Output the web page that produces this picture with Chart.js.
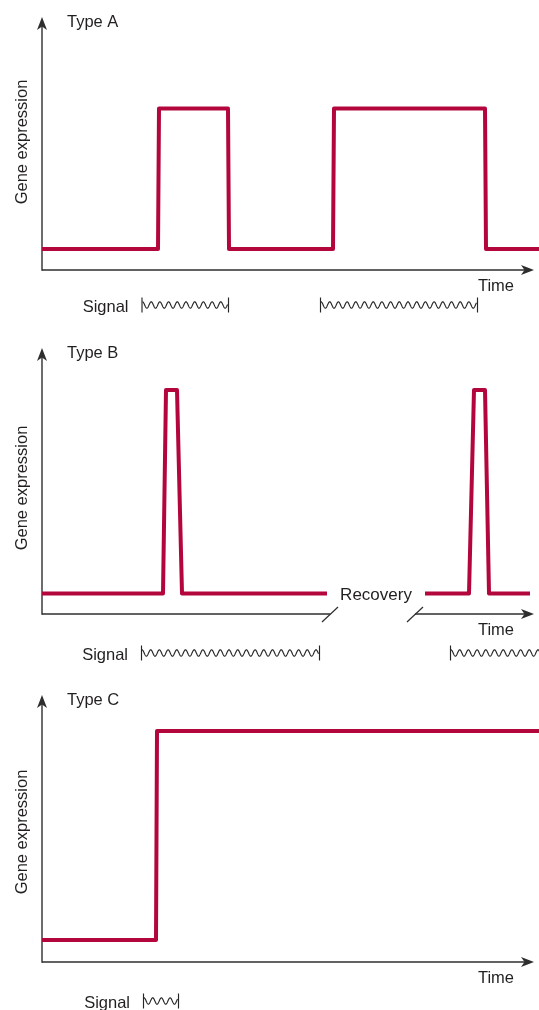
<!DOCTYPE html>
<html><head><meta charset="utf-8">
<script src="https://cdn.jsdelivr.net/npm/chart.js@4.4.1/dist/chart.umd.min.js"></script>
<style>
html,body{margin:0;padding:0;background:#fff;}
#wrap{position:relative;width:539px;height:1010px;overflow:hidden;background:#fff;}
canvas{position:absolute;left:0;}
</style></head><body>
<div id="wrap">
<canvas id="cA" width="539" height="335" style="top:0px"></canvas>
<canvas id="cB" width="539" height="340" style="top:335px"></canvas>
<canvas id="cC" width="539" height="335" style="top:675px"></canvas>
</div>
<script>
// ---- Data (time in arbitrary units, gene expression in arbitrary units 0-10) ----
const typeA_time   = [0, 116, 117, 186, 187, 291, 292, 443, 444, 497];
const typeA_level  = [0.83, 0.83, 6.38, 6.38, 0.83, 0.83, 6.38, 6.38, 0.83, 0.83];
const typeA_signal = [[99.5, 186], [278, 435]];

const typeB_time   = [0, 121, 124, 135, 140, 285, 334, 383, 427, 432, 443, 447, 488];
const typeB_level  = [0.77, 0.77, 8.42, 8.42, 0.77, 0.77, null, 0.77, 0.77, 8.42, 8.42, 0.77, 0.77];
const typeB_signal = [[99, 277], [408, null]];
const typeB_break  = [288, 373];

const typeC_time   = [0, 114, 115, 497];
const typeC_level  = [0.82, 0.82, 8.65, 8.65];
const typeC_signal = [[101, 136]];

const panelTitles = ['Type A', 'Type B', 'Type C'];
const yTitle = 'Gene expression';
const xTitle = 'Time';
const signalLabel = 'Signal';
const recoveryLabel = 'Recovery';

// ---- Styles ----
const LINE = '#b3063c';
const AXIS = '#2e2e2e';
const TEXT = '#231f20';
const FONT = '16.5px "Liberation Sans", Arial, Helvetica, sans-serif';

const META = {
  cA: {title: panelTitles[0], signals: typeA_signal, waveY: 305, geneY: 142},
  cB: {title: panelTitles[1], signals: typeB_signal, waveY: 318, geneY: 153, brk: typeB_break, recovery: 334, recLevel: 0.77},
  cC: {title: panelTitles[2], signals: typeC_signal, waveY: 326, geneY: 157}
};

function seg(ctx, x1, y1, x2, y2) { ctx.beginPath(); ctx.moveTo(x1, y1); ctx.lineTo(x2, y2); ctx.stroke(); }
function arrowUp(ctx, x, tip) {
  ctx.beginPath(); ctx.moveTo(x, tip); ctx.lineTo(x + 5, tip + 13); ctx.lineTo(x, tip + 9.5); ctx.lineTo(x - 5, tip + 13); ctx.closePath(); ctx.fill();
}
function arrowRight(ctx, tip, y) {
  ctx.beginPath(); ctx.moveTo(tip, y); ctx.lineTo(tip - 13, y - 5); ctx.lineTo(tip - 9.5, y); ctx.lineTo(tip - 13, y + 5); ctx.closePath(); ctx.fill();
}
function wave(ctx, p0, p1, yc) {
  const amp = 3.2, period = 8.7;
  ctx.beginPath();
  let first = true;
  for (let px = p0 + 1; px <= p1 - 0.5; px += 0.25) {
    const yy = yc - amp * Math.cos((px - p0 - 1) / period * 2 * Math.PI);
    if (first) { ctx.moveTo(px, yy); first = false; } else ctx.lineTo(px, yy);
  }
  ctx.stroke();
}

const decor = {
  id: 'decor',
  beforeDatasetsDraw(chart) {
    const m = META[chart.canvas.id];
    const {ctx, chartArea: a, scales: {x}} = chart;
    ctx.save();
    ctx.strokeStyle = AXIS; ctx.fillStyle = AXIS; ctx.lineWidth = 1.4;
    const x0 = a.left, yb = a.bottom, yt = a.top, tip = a.right - 5;
    seg(ctx, x0, yb + 0.7, x0, yt + 9);
    arrowUp(ctx, x0, yt);
    if (m.brk) {
      const b1 = x.getPixelForValue(m.brk[0]), b2 = x.getPixelForValue(m.brk[1]);
      seg(ctx, x0, yb, b1, yb);
      seg(ctx, b2, yb, tip - 9, yb);
      ctx.lineWidth = 1.2;
      seg(ctx, b1 - 8, yb + 8, b1 + 8, yb - 7);
      seg(ctx, b2 - 8, yb + 8, b2 + 8, yb - 7);
    } else {
      seg(ctx, x0, yb, tip - 9, yb);
    }
    arrowRight(ctx, tip, yb);
    ctx.restore();
  },
  afterDraw(chart) {
    const m = META[chart.canvas.id];
    const {ctx, chartArea: a, scales: {x, y}} = chart;
    ctx.save();
    ctx.fillStyle = TEXT; ctx.font = FONT; ctx.textBaseline = 'alphabetic';
    ctx.textAlign = 'left';
    ctx.fillText(m.title, a.left + 25, a.top + 10);
    ctx.textAlign = 'right';
    ctx.fillText(xTitle, a.right - 25, a.bottom + 21);
    ctx.save();
    ctx.translate(27, m.geneY);
    ctx.rotate(-Math.PI / 2);
    ctx.textAlign = 'center';
    ctx.fillText(yTitle, 0, 0);
    ctx.restore();
    if (m.recovery !== undefined) {
      ctx.font = '17px "Liberation Sans", Arial, Helvetica, sans-serif';
      ctx.textAlign = 'center';
      ctx.fillText(recoveryLabel, x.getPixelForValue(m.recovery), y.getPixelForValue(m.recLevel) + 6.5);
      ctx.font = FONT;
    }
    ctx.strokeStyle = '#262626'; ctx.lineWidth = 1.15;
    m.signals.forEach((s, i) => {
      const p0 = x.getPixelForValue(s[0]);
      const p1 = s[1] === null ? a.right + 2 : x.getPixelForValue(s[1]);
      if (i === 0) {
        ctx.textAlign = 'right';
        ctx.fillText(signalLabel, p0 - 13, m.waveY + 6.5);
      }
      seg(ctx, p0 + 0.5, m.waveY - 7.5, p0 + 0.5, m.waveY + 7.5);
      if (s[1] !== null) seg(ctx, p1 + 0.5, m.waveY - 7.5, p1 + 0.5, m.waveY + 7.5);
      wave(ctx, p0, p1, m.waveY);
    });
    ctx.restore();
  }
};

function makeChart(id, times, levels, pad) {
  return new Chart(document.getElementById(id), {
    type: 'line',
    data: {datasets: [{
      data: times.map((t, i) => ({x: t, y: levels[i]})),
      borderColor: LINE, borderWidth: 4, pointRadius: 0, pointHoverRadius: 0,
      tension: 0, borderJoinStyle: 'round', borderCapStyle: 'butt',
      spanGaps: false, fill: false, clip: false
    }]},
    options: {
      responsive: false, animation: false, devicePixelRatio: 1, events: [],
      layout: {padding: pad},
      scales: {
        x: {type: 'linear', min: 0, max: 497, display: false},
        y: {type: 'linear', min: 0, max: 10, display: false}
      },
      plugins: {legend: {display: false}, tooltip: {enabled: false}, title: {display: false}}
    },
    plugins: [decor]
  });
}

makeChart('cA', typeA_time, typeA_level, {left: 42, right: 0, top: 17, bottom: 65});
makeChart('cB', typeB_time, typeB_level, {left: 42, right: 0, top: 13, bottom: 61});
makeChart('cC', typeC_time, typeC_level, {left: 42, right: 0, top: 20, bottom: 48});
</script>
</body></html>
